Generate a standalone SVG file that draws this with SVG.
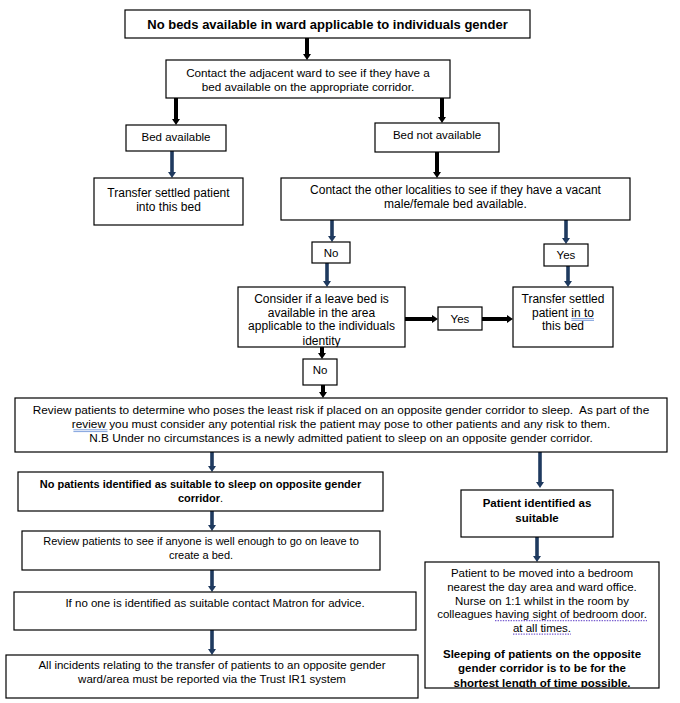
<svg xmlns="http://www.w3.org/2000/svg" width="680" height="703" viewBox="0 0 680 703">
<defs>
<style>
.box{fill:#fff;stroke:#000;stroke-width:1.2}
.frame{fill:none;stroke:#000;stroke-width:1.2}
.bg{fill:#fff}
text{font-family:"Liberation Sans",Arial,sans-serif;fill:#000;text-anchor:middle}
.s11{font-size:11px}
.s12{font-size:12px}
.s115{font-size:11.5px}
.s117{font-size:11.7px}
.s118{font-size:11.8px}
.b{font-weight:bold}
.ak{stroke:#000;stroke-width:4;fill:none;marker-end:url(#hk)}
.ab{stroke:#1f3a5f;stroke-width:3.6;fill:none;marker-end:url(#hb)}
.ul{stroke:#4a7bd0;stroke-width:0.7;fill:none}
.dl{stroke:#7a5fd0;stroke-width:1.1;stroke-dasharray:1.4 1.2;fill:none}
</style>
<marker id="hk" markerUnits="userSpaceOnUse" viewBox="0 0 6 8" markerWidth="6" markerHeight="8" refX="0" refY="4" orient="auto"><path d="M0,0 L6,4 L0,8 z" fill="#000"/></marker>
<marker id="hb" markerUnits="userSpaceOnUse" viewBox="0 0 6 8" markerWidth="6" markerHeight="8" refX="0" refY="4" orient="auto"><path d="M0,0 L6,4 L0,8 z" fill="#1f3a5f"/></marker>
<clipPath id="cConsider"><rect x="238" y="287" width="167" height="60"/></clipPath>
<clipPath id="cBig"><rect x="425" y="562" width="234" height="125.4"/></clipPath>
</defs>
<rect x="0" y="0" width="680" height="703" fill="#fff"/>

<g id="connectors">
<line class="ak" x1="307" y1="38" x2="307" y2="54"/>
<line class="ak" x1="176" y1="98" x2="176" y2="119"/>
<line class="ak" x1="442" y1="98" x2="442" y2="117"/>
<line class="ab" x1="172" y1="151" x2="172" y2="172"/>
<line class="ak" x1="437" y1="152" x2="437" y2="172"/>
<line class="ab" x1="332" y1="220" x2="332" y2="236"/>
<line class="ab" x1="566" y1="220" x2="566" y2="238"/>
<line class="ab" x1="327" y1="263" x2="327" y2="281"/>
<line class="ab" x1="568" y1="266" x2="568" y2="281"/>
<line class="ak" x1="405" y1="319" x2="432" y2="319"/>
<line class="ak" x1="482" y1="319" x2="507" y2="319"/>
<line class="ak" x1="322" y1="347" x2="322" y2="353"/>
<line class="ak" x1="323" y1="385" x2="323" y2="392"/>
<line class="ab" x1="212" y1="452" x2="212" y2="466"/>
<line class="ab" x1="540" y1="452" x2="540" y2="482"/>
<line class="ab" x1="212" y1="511" x2="212" y2="525"/>
<line class="ab" x1="212" y1="570" x2="212" y2="586"/>
<line class="ab" x1="212" y1="630" x2="212" y2="649"/>
<line class="ab" x1="537" y1="537" x2="537" y2="556"/>
</g>

<g id="n-start">
<rect class="box" x="125" y="10" width="405" height="28"/>
<text class="b" style="font-size:13px" x="327.5" y="28.5">No beds available in ward applicable to individuals gender</text>
</g>

<g id="n-adjacent">
<rect class="box" x="166" y="60" width="284" height="38"/>
<text class="s117" x="308" y="77">Contact the adjacent ward to see if they have a</text>
<text class="s117" x="308" y="91">bed available on the appropriate corridor.</text>
</g>

<g id="n-bed-available">
<rect class="box" x="126" y="125" width="100" height="26"/>
<text class="s115" x="176" y="141">Bed available</text>
</g>

<g id="n-bed-not-available">
<rect class="box" x="375" y="123" width="124" height="29"/>
<text class="s115" x="437" y="139">Bed not available</text>
</g>

<g id="n-transfer-1">
<rect class="box" x="94" y="178" width="149" height="47"/>
<text class="s12" x="168.5" y="197">Transfer settled patient</text>
<text class="s12" x="168.5" y="211">into this bed</text>
</g>

<g id="n-localities">
<rect class="box" x="281" y="178" width="349" height="42"/>
<text class="s12" x="455.5" y="194">Contact the other localities to see if they have a vacant</text>
<text class="s12" x="455.5" y="208">male/female bed available.</text>
</g>

<g id="n-no-1">
<rect class="box" x="312" y="242" width="38" height="21"/>
<text class="s115" x="331" y="256.5">No</text>
</g>

<g id="n-yes-1">
<rect class="box" x="544" y="244" width="44" height="22"/>
<text class="s115" x="566" y="259">Yes</text>
</g>

<g id="n-leave-bed">
<rect class="bg" x="238" y="287" width="167" height="60"/>
<g clip-path="url(#cConsider)">
<text class="s12" x="321.5" y="303.3">Consider if a leave bed is</text>
<text class="s12" x="321.5" y="316.7">available in the area</text>
<text class="s12" x="321.5" y="330.3">applicable to the individuals</text>
<text class="s12" x="321.5" y="345.3">identity</text>
</g>
<rect class="frame" x="238" y="287" width="167" height="60"/>
</g>

<g id="n-transfer-2">
<rect class="box" x="513" y="287" width="100" height="60"/>
<text class="s12" x="563" y="303.3">Transfer settled</text>
<text class="s12" x="563" y="316.7">patient in to</text>
<text class="s12" x="563" y="330.3">this bed</text>
<line class="ul" x1="571.4" y1="318.6" x2="594" y2="318.6"/>
<line class="ul" x1="571.4" y1="320.4" x2="594" y2="320.4"/>
</g>

<g id="n-yes-2">
<rect class="box" x="438" y="307" width="44" height="23"/>
<text class="s115" x="460" y="323">Yes</text>
</g>

<g id="n-no-2">
<rect class="box" x="303" y="359" width="34" height="26"/>
<text class="s115" x="320" y="374">No</text>
</g>

<g id="n-review">
<rect class="box" x="15" y="398" width="652" height="54"/>
<text class="s118" x="341" y="414" xml:space="preserve">Review patients to determine who poses the least risk if placed on an opposite gender corridor to sleep.  As part of the</text>
<text class="s118" x="341" y="428">review you must consider any potential risk the patient may pose to other patients and any risk to them.</text>
<text class="s118" x="341" y="442">N.B Under no circumstances is a newly admitted patient to sleep on an opposite gender corridor.</text>
<line class="ul" x1="73.4" y1="429.8" x2="107.5" y2="429.8"/>
<line class="ul" x1="73.4" y1="431.6" x2="107.5" y2="431.6"/>
</g>

<g id="n-no-patients">
<rect class="box" x="18" y="472" width="365" height="39"/>
<text class="s11 b" x="200.5" y="487.5">No patients identified as suitable to sleep on opposite gender</text>
<text class="s11" x="200.5" y="501.5"><tspan class="b">corridor</tspan>.</text>
</g>

<g id="n-review-leave">
<rect class="box" x="22" y="531" width="358" height="39"/>
<text class="s11" x="201" y="545">Review patients to see if anyone is well enough to go on leave to</text>
<text class="s11" x="201" y="559">create a bed.</text>
</g>

<g id="n-matron">
<rect class="box" x="14" y="592" width="402" height="38"/>
<text class="s115" x="215" y="607">If no one is identified as suitable contact Matron for advice.</text>
</g>

<g id="n-incidents">
<rect class="box" x="6" y="655" width="412" height="43"/>
<text class="s115" x="212" y="669">All incidents relating to the transfer of patients to an opposite gender</text>
<text class="s115" x="212" y="683">ward/area must be reported via the Trust IR1 system</text>
</g>

<g id="n-suitable">
<rect class="box" x="461" y="490" width="152" height="47"/>
<text class="s115 b" x="537" y="507">Patient identified as</text>
<text class="s115 b" x="537" y="522">suitable</text>
</g>

<g id="n-bedroom">
<rect class="bg" x="425" y="562" width="234" height="126"/>
<g clip-path="url(#cBig)">
<text class="s115" x="542" y="577">Patient to be moved into a bedroom</text>
<text class="s115" x="542" y="591">nearest the day area and ward office.</text>
<text class="s115" x="542" y="604.5">Nurse on 1:1 whilst in the room by</text>
<text class="s115" x="542" y="618">colleagues having sight of bedroom door.</text>
<text class="s115" x="542" y="631.5">at all times.</text>
<text class="s115 b" x="542" y="658">Sleeping of patients on the opposite</text>
<text class="s115 b" x="542" y="672">gender corridor is to be for the</text>
<text class="s115 b" x="542" y="686.5">shortest length of time possible.</text>
</g>
<rect class="frame" x="425" y="562" width="234" height="126"/>
<line class="dl" x1="495" y1="620.6" x2="647" y2="620.6"/>
<line class="dl" x1="513" y1="634.1" x2="571" y2="634.1"/>
</g>
</svg>
